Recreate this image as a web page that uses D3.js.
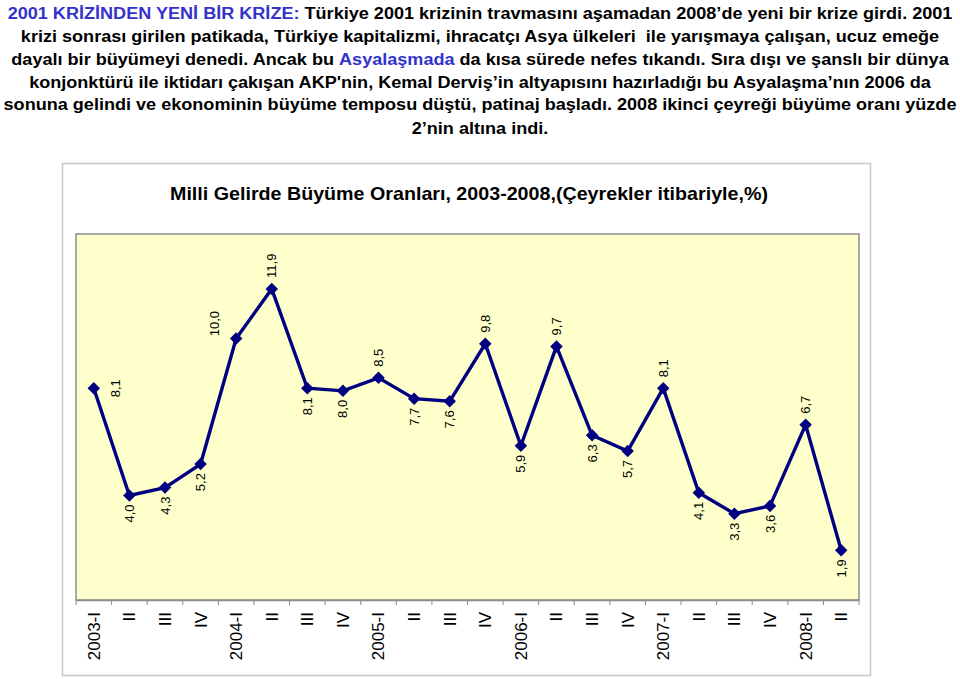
<!DOCTYPE html>
<html>
<head>
<meta charset="utf-8">
<script src="https://cdn.jsdelivr.net/npm/d3@7"></script>
<style>
  html, body { margin: 0; padding: 0; background: #ffffff; }
  svg { display: block; }
</style>
</head>
<body>
<svg id="chart" width="960" height="679"></svg>
<script>
// ---- data ----
const quarters = ["2003-I","II","III","IV","2004-I","II","III","IV","2005-I","II","III","IV",
                  "2006-I","II","III","IV","2007-I","II","III","IV","2008-I","II"];
const growth = [8.1, 4.0, 4.3, 5.2, 10.0, 11.9, 8.1, 8.0, 8.5, 7.7, 7.6, 9.8,
                5.9, 9.7, 6.3, 5.7, 8.1, 4.1, 3.3, 3.6, 6.7, 1.9];
const labelSide = ["right","below","below","below","left","above","below","below","above","below","below","above",
                   "below","above","below","below","above","below","below","below","above","below"];
const chartTitle = "Milli Gelirde Büyüme Oranları, 2003-2008,(Çeyrekler itibariyle,%)";
const introLines = [
  [["2001 KRİZİNDEN YENİ BİR KRİZE:", true], [" Türkiye 2001 krizinin travmasını aşamadan 2008’de yeni bir krize girdi. 2001", false]],
  [["krizi sonrası girilen patikada, Türkiye kapitalizmi, ihracatçı Asya ülkeleri  ile yarışmaya çalışan, ucuz emeğe", false]],
  [["dayalı bir büyümeyi denedi. Ancak bu ", false], ["Asyalaşmada", true], [" da kısa sürede nefes tıkandı. Sıra dışı ve şanslı bir dünya", false]],
  [["konjonktürü ile iktidarı çakışan AKP'nin, Kemal Derviş’in altyapısını hazırladığı bu Asyalaşma’nın 2006 da", false]],
  [["sonuna gelindi ve ekonominin büyüme temposu düştü, patinaj başladı. 2008 ikinci çeyreği büyüme oranı yüzde", false]],
  [["2’nin altına indi.", false]]
];
const yDomain = [0, 14];

// ---- drawing ----
const svg = d3.select("#chart");
const fmt = v => d3.format(".1f")(v).replace(".", ",");

// intro paragraph (horizontally stretched like the reference)
const introY = [19, 42, 65, 88, 110, 134];
const intro = svg.append("g").attr("transform", "translate(480,0) scale(1.13,1)");
introLines.forEach((parts, i) => {
  const t = intro.append("text")
    .attr("x", 0).attr("y", introY[i])
    .attr("text-anchor", "middle")
    .attr("font-family", "Liberation Sans, Arial, sans-serif")
    .attr("font-weight", "bold")
    .attr("font-size", 16)
    .style("white-space", "pre");
  parts.forEach(([s, blue]) => {
    t.append("tspan").text(s).attr("fill", blue ? "#3333cc" : "#000000");
  });
});

// outer chart frame
svg.append("rect")
  .attr("x", 62.5).attr("y", 163.5).attr("width", 808).attr("height", 512)
  .attr("fill", "#ffffff").attr("stroke", "#c8c8c8").attr("stroke-width", 1.5);

// chart title
svg.append("text")
  .attr("x", 469).attr("y", 200)
  .attr("text-anchor", "middle")
  .attr("font-family", "Liberation Sans, Arial, sans-serif")
  .attr("font-weight", "bold")
  .attr("font-size", 19)
  .attr("textLength", 598)
  .attr("lengthAdjust", "spacingAndGlyphs")
  .attr("fill", "#000")
  .text(chartTitle);

// plot area
const plot = { left: 76, right: 859, top: 234, bottom: 600 };
const x = d3.scaleBand().domain(d3.range(quarters.length)).range([plot.left, plot.right]);
const y = d3.scaleLinear().domain(yDomain).range([plot.bottom, plot.top]);
const cx = i => x(i) + x.bandwidth() / 2;

svg.append("rect")
  .attr("x", plot.left).attr("y", plot.top)
  .attr("width", plot.right - plot.left).attr("height", plot.bottom - plot.top)
  .attr("fill", "#ffffcc").attr("stroke", "#8c8c8c").attr("stroke-width", 1.5);

// x axis
const xAxis = d3.axisBottom(x).tickSizeInner(0).tickSizeOuter(0).tickFormat(i => quarters[i]);
const gx = svg.append("g").attr("transform", `translate(0,${plot.bottom})`).call(xAxis);
gx.select(".domain").attr("stroke", "#8c8c8c").attr("stroke-width", 1.5);
gx.selectAll(".tick text")
  .attr("transform", "rotate(-90)")
  .attr("x", -12).attr("y", 0).attr("dy", "0.35em")
  .attr("text-anchor", "end")
  .attr("font-family", "Liberation Sans, Arial, sans-serif")
  .attr("font-size", 17)
  .attr("fill", "#000");
// tick marks at category boundaries
const boundaries = d3.range(quarters.length + 1).map(i => plot.left + i * x.step());
svg.append("g").selectAll("line").data(boundaries).join("line")
  .attr("x1", d => d).attr("x2", d => d)
  .attr("y1", plot.bottom).attr("y2", plot.bottom + 5)
  .attr("stroke", "#8c8c8c").attr("stroke-width", 1);

// line
const line = d3.line().x((d, i) => cx(i)).y(d => y(d));
svg.append("path").datum(growth)
  .attr("d", line)
  .attr("fill", "none").attr("stroke", "#000080").attr("stroke-width", 3.4)
  .attr("stroke-linejoin", "miter");

// markers
svg.append("g").selectAll("path").data(growth).join("path")
  .attr("d", d3.symbol(d3.symbolDiamond2 || d3.symbolSquare, 100))
  .attr("transform", (d, i) => `translate(${cx(i)},${y(d)}) rotate(${d3.symbolDiamond2 ? 0 : 45})`)
  .attr("fill", "#000080");

// labels
const lab = svg.append("g")
  .attr("font-family", "Liberation Sans, Arial, sans-serif")
  .attr("font-size", 13)
  .attr("fill", "#000");
growth.forEach((v, i) => {
  const px = cx(i), py = y(v);
  let tx = px, ty = py, anchor = "middle";
  const side = labelSide[i];
  if (side === "above") { ty = py - 11; anchor = "start"; }
  else if (side === "below") { ty = py + 9; anchor = "end"; }
  else if (side === "right") { tx = px + 22; anchor = "middle"; }
  else if (side === "left") { tx = px - 22; ty = py - 15; anchor = "middle"; }
  lab.append("text")
    .attr("transform", `translate(${tx},${ty}) rotate(-90)`)
    .attr("dy", "0.35em")
    .attr("text-anchor", anchor)
    .text(fmt(v));
});
</script>
</body>
</html>
